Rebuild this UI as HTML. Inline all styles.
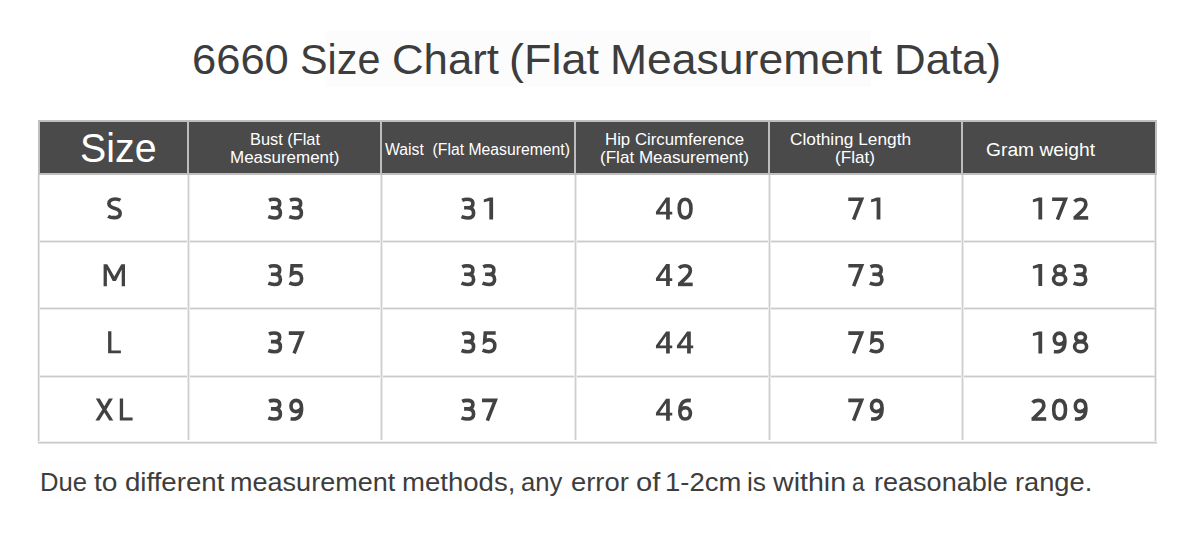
<!DOCTYPE html>
<html><head><meta charset="utf-8"><title>6660 Size Chart</title>
<style>
html,body{margin:0;padding:0;background:#fff;width:1200px;height:549px;overflow:hidden;position:relative}
.t{position:absolute;font-family:"Liberation Sans",sans-serif;line-height:1;white-space:nowrap;transform-origin:0 0}
.r{position:absolute}
.f{fill:#424242;stroke:none}
</style></head><body>
<div class="r" style="left:326px;top:31px;width:545px;height:56px;background:#fcfcfc"></div>
<div class="r" style="left:37px;top:462px;width:735px;height:38px;background:#fefefe"></div>
<div class="r" style="left:38px;top:120px;width:1119px;height:55px;background:#bfbfbf"></div>
<div class="r" style="left:40px;top:122px;width:1115px;height:51px;background:#4a4a4a"></div>
<div class="r" style="left:37px;top:175px;width:1px;height:268px;background:#f4f4f4"></div>
<div class="r" style="left:38px;top:175px;width:1px;height:268px;background:#cacaca"></div>
<div class="r" style="left:39px;top:175px;width:1px;height:268px;background:#e4e4e4"></div>
<div class="r" style="left:1154px;top:175px;width:1px;height:268px;background:#eaeaea"></div>
<div class="r" style="left:1155px;top:175px;width:1px;height:268px;background:#cacaca"></div>
<div class="r" style="left:1156px;top:175px;width:1px;height:268px;background:#eaeaea"></div>
<div class="r" style="left:38px;top:441px;width:1119px;height:1px;background:#f0f0f0"></div>
<div class="r" style="left:38px;top:442px;width:1119px;height:1px;background:#cacaca"></div>
<div class="r" style="left:38px;top:443px;width:1119px;height:1px;background:#e2e2e2"></div>
<div class="r" style="left:40px;top:240px;width:1115px;height:3px;background:#eaeaea"></div>
<div class="r" style="left:40px;top:241px;width:1115px;height:1px;background:#cacaca"></div>
<div class="r" style="left:40px;top:307px;width:1115px;height:3px;background:#eaeaea"></div>
<div class="r" style="left:40px;top:308px;width:1115px;height:1px;background:#cacaca"></div>
<div class="r" style="left:40px;top:375px;width:1115px;height:3px;background:#eaeaea"></div>
<div class="r" style="left:40px;top:376px;width:1115px;height:1px;background:#cacaca"></div>
<div class="r" style="left:187px;top:122px;width:2px;height:51px;background:#bdbdbd"></div>
<div class="r" style="left:187px;top:175px;width:3px;height:265px;background:#eaeaea"></div>
<div class="r" style="left:188px;top:175px;width:1px;height:265px;background:#cfcfcf"></div>
<div class="r" style="left:380px;top:122px;width:2px;height:51px;background:#bdbdbd"></div>
<div class="r" style="left:380px;top:175px;width:3px;height:265px;background:#eaeaea"></div>
<div class="r" style="left:381px;top:175px;width:1px;height:265px;background:#cfcfcf"></div>
<div class="r" style="left:574px;top:122px;width:2px;height:51px;background:#bdbdbd"></div>
<div class="r" style="left:574px;top:175px;width:3px;height:265px;background:#eaeaea"></div>
<div class="r" style="left:575px;top:175px;width:1px;height:265px;background:#cfcfcf"></div>
<div class="r" style="left:768px;top:122px;width:2px;height:51px;background:#bdbdbd"></div>
<div class="r" style="left:768px;top:175px;width:3px;height:265px;background:#eaeaea"></div>
<div class="r" style="left:769px;top:175px;width:1px;height:265px;background:#cfcfcf"></div>
<div class="r" style="left:961px;top:122px;width:2px;height:51px;background:#bdbdbd"></div>
<div class="r" style="left:961px;top:175px;width:3px;height:265px;background:#eaeaea"></div>
<div class="r" style="left:962px;top:175px;width:1px;height:265px;background:#cfcfcf"></div>
<svg class="r" style="left:0;top:0" width="1200" height="549" viewBox="0 0 1200 549"><g fill="none" stroke="#424242" stroke-width="3.6"><g transform="translate(264.8 197.6)"><path d="M4.2 2.7C5.6 1.95 7.2 1.65 9.1 1.65C12.8 1.65 14.9 3.3 14.9 5.8C14.9 8.6 12.7 10.2 9.4 10.2H6.1M9.4 10.2C13.6 10.2 15.6 12.3 15.6 15.3C15.6 18.5 13.3 20.35 9.6 20.35C7.3 20.35 5.4 19.9 3.5 19.1"/></g><g transform="translate(285.8 197.6)"><path d="M4.2 2.7C5.6 1.95 7.2 1.65 9.1 1.65C12.8 1.65 14.9 3.3 14.9 5.8C14.9 8.6 12.7 10.2 9.4 10.2H6.1M9.4 10.2C13.6 10.2 15.6 12.3 15.6 15.3C15.6 18.5 13.3 20.35 9.6 20.35C7.3 20.35 5.4 19.9 3.5 19.1"/></g><g transform="translate(458.0 197.6)"><path d="M4.2 2.7C5.6 1.95 7.2 1.65 9.1 1.65C12.8 1.65 14.9 3.3 14.9 5.8C14.9 8.6 12.7 10.2 9.4 10.2H6.1M9.4 10.2C13.6 10.2 15.6 12.3 15.6 15.3C15.6 18.5 13.3 20.35 9.6 20.35C7.3 20.35 5.4 19.9 3.5 19.1"/></g><g transform="translate(479.0 197.6)"><path class="f" d="M14.1 0H10.5L4.8 1.8V4.7L10.3 3.4V22H14.1Z"/></g><g transform="translate(653.6 197.6)"><path class="f" fill-rule="evenodd" d="M12.5 0H16.2V14.1H18.65V16.9H16.2V22H12.5V16.9H2.35V14.1ZM12.5 4.6L6 14.1H12.5Z"/></g><g transform="translate(674.6 197.6)"><path d="M10.5 1.7C14.6 1.7 16.4 5.2 16.4 11C16.4 16.8 14.6 20.3 10.5 20.3C6.4 20.3 4.6 16.8 4.6 11C4.6 5.2 6.4 1.7 10.5 1.7Z"/></g><g transform="translate(845.3 197.6)"><path d="M3 1.7H16.3L8.3 22"/></g><g transform="translate(866.3 197.6)"><path class="f" d="M14.1 0H10.5L4.8 1.8V4.7L10.3 3.4V22H14.1Z"/></g><g transform="translate(1028.1 197.6)"><path class="f" d="M14.1 0H10.5L4.8 1.8V4.7L10.3 3.4V22H14.1Z"/></g><g transform="translate(1049.1 197.6)"><path d="M3 1.7H16.3L8.3 22"/></g><g transform="translate(1070.1 197.6)"><path d="M4.4 3.9C5.9 2.3 7.8 1.7 10.2 1.7C13.8 1.7 15.75 3.7 15.75 6.7C15.75 9.2 14.3 11 12.1 13.1L5 20"/><path d="M3.4 20.3H18.1"/></g><g transform="translate(264.8 264.1)"><path d="M4.2 2.7C5.6 1.95 7.2 1.65 9.1 1.65C12.8 1.65 14.9 3.3 14.9 5.8C14.9 8.6 12.7 10.2 9.4 10.2H6.1M9.4 10.2C13.6 10.2 15.6 12.3 15.6 15.3C15.6 18.5 13.3 20.35 9.6 20.35C7.3 20.35 5.4 19.9 3.5 19.1"/></g><g transform="translate(285.8 264.1)"><path d="M16.7 1.6H6.3L5.7 10C7 9 8.6 8.5 10.2 8.5C13.7 8.5 15.85 10.9 15.85 14.4C15.85 18.2 13.4 20.3 9.9 20.3C7.6 20.3 5.5 19.7 3.6 18.7"/></g><g transform="translate(458.0 264.1)"><path d="M4.2 2.7C5.6 1.95 7.2 1.65 9.1 1.65C12.8 1.65 14.9 3.3 14.9 5.8C14.9 8.6 12.7 10.2 9.4 10.2H6.1M9.4 10.2C13.6 10.2 15.6 12.3 15.6 15.3C15.6 18.5 13.3 20.35 9.6 20.35C7.3 20.35 5.4 19.9 3.5 19.1"/></g><g transform="translate(479.0 264.1)"><path d="M4.2 2.7C5.6 1.95 7.2 1.65 9.1 1.65C12.8 1.65 14.9 3.3 14.9 5.8C14.9 8.6 12.7 10.2 9.4 10.2H6.1M9.4 10.2C13.6 10.2 15.6 12.3 15.6 15.3C15.6 18.5 13.3 20.35 9.6 20.35C7.3 20.35 5.4 19.9 3.5 19.1"/></g><g transform="translate(653.6 264.1)"><path class="f" fill-rule="evenodd" d="M12.5 0H16.2V14.1H18.65V16.9H16.2V22H12.5V16.9H2.35V14.1ZM12.5 4.6L6 14.1H12.5Z"/></g><g transform="translate(674.6 264.1)"><path d="M4.4 3.9C5.9 2.3 7.8 1.7 10.2 1.7C13.8 1.7 15.75 3.7 15.75 6.7C15.75 9.2 14.3 11 12.1 13.1L5 20"/><path d="M3.4 20.3H18.1"/></g><g transform="translate(845.3 264.1)"><path d="M3 1.7H16.3L8.3 22"/></g><g transform="translate(866.3 264.1)"><path d="M4.2 2.7C5.6 1.95 7.2 1.65 9.1 1.65C12.8 1.65 14.9 3.3 14.9 5.8C14.9 8.6 12.7 10.2 9.4 10.2H6.1M9.4 10.2C13.6 10.2 15.6 12.3 15.6 15.3C15.6 18.5 13.3 20.35 9.6 20.35C7.3 20.35 5.4 19.9 3.5 19.1"/></g><g transform="translate(1028.1 264.1)"><path class="f" d="M14.1 0H10.5L4.8 1.8V4.7L10.3 3.4V22H14.1Z"/></g><g transform="translate(1049.1 264.1)"><ellipse cx="10.5" cy="5.9" rx="4.85" ry="4.2"/><ellipse cx="10.5" cy="15.25" rx="6.05" ry="5.05"/></g><g transform="translate(1070.1 264.1)"><path d="M4.2 2.7C5.6 1.95 7.2 1.65 9.1 1.65C12.8 1.65 14.9 3.3 14.9 5.8C14.9 8.6 12.7 10.2 9.4 10.2H6.1M9.4 10.2C13.6 10.2 15.6 12.3 15.6 15.3C15.6 18.5 13.3 20.35 9.6 20.35C7.3 20.35 5.4 19.9 3.5 19.1"/></g><g transform="translate(264.8 331.4)"><path d="M4.2 2.7C5.6 1.95 7.2 1.65 9.1 1.65C12.8 1.65 14.9 3.3 14.9 5.8C14.9 8.6 12.7 10.2 9.4 10.2H6.1M9.4 10.2C13.6 10.2 15.6 12.3 15.6 15.3C15.6 18.5 13.3 20.35 9.6 20.35C7.3 20.35 5.4 19.9 3.5 19.1"/></g><g transform="translate(285.8 331.4)"><path d="M3 1.7H16.3L8.3 22"/></g><g transform="translate(458.0 331.4)"><path d="M4.2 2.7C5.6 1.95 7.2 1.65 9.1 1.65C12.8 1.65 14.9 3.3 14.9 5.8C14.9 8.6 12.7 10.2 9.4 10.2H6.1M9.4 10.2C13.6 10.2 15.6 12.3 15.6 15.3C15.6 18.5 13.3 20.35 9.6 20.35C7.3 20.35 5.4 19.9 3.5 19.1"/></g><g transform="translate(479.0 331.4)"><path d="M16.7 1.6H6.3L5.7 10C7 9 8.6 8.5 10.2 8.5C13.7 8.5 15.85 10.9 15.85 14.4C15.85 18.2 13.4 20.3 9.9 20.3C7.6 20.3 5.5 19.7 3.6 18.7"/></g><g transform="translate(653.6 331.4)"><path class="f" fill-rule="evenodd" d="M12.5 0H16.2V14.1H18.65V16.9H16.2V22H12.5V16.9H2.35V14.1ZM12.5 4.6L6 14.1H12.5Z"/></g><g transform="translate(674.6 331.4)"><path class="f" fill-rule="evenodd" d="M12.5 0H16.2V14.1H18.65V16.9H16.2V22H12.5V16.9H2.35V14.1ZM12.5 4.6L6 14.1H12.5Z"/></g><g transform="translate(845.3 331.4)"><path d="M3 1.7H16.3L8.3 22"/></g><g transform="translate(866.3 331.4)"><path d="M16.7 1.6H6.3L5.7 10C7 9 8.6 8.5 10.2 8.5C13.7 8.5 15.85 10.9 15.85 14.4C15.85 18.2 13.4 20.3 9.9 20.3C7.6 20.3 5.5 19.7 3.6 18.7"/></g><g transform="translate(1028.1 331.4)"><path class="f" d="M14.1 0H10.5L4.8 1.8V4.7L10.3 3.4V22H14.1Z"/></g><g transform="translate(1049.1 331.4)"><path d="M4.8 20.1C5.8 20.25 6.5 20.3 7.4 20.3C13 20.3 15.8 16.2 15.8 9.5C15.8 4.4 13.8 1.7 10.5 1.7C7.1 1.7 5.2 4 5.2 7.3C5.2 10.7 7.1 12.9 10.1 12.9C12.6 12.9 14.7 11.5 15.7 9.4"/></g><g transform="translate(1070.1 331.4)"><ellipse cx="10.5" cy="5.9" rx="4.85" ry="4.2"/><ellipse cx="10.5" cy="15.25" rx="6.05" ry="5.05"/></g><g transform="translate(264.8 398.7)"><path d="M4.2 2.7C5.6 1.95 7.2 1.65 9.1 1.65C12.8 1.65 14.9 3.3 14.9 5.8C14.9 8.6 12.7 10.2 9.4 10.2H6.1M9.4 10.2C13.6 10.2 15.6 12.3 15.6 15.3C15.6 18.5 13.3 20.35 9.6 20.35C7.3 20.35 5.4 19.9 3.5 19.1"/></g><g transform="translate(285.8 398.7)"><path d="M4.8 20.1C5.8 20.25 6.5 20.3 7.4 20.3C13 20.3 15.8 16.2 15.8 9.5C15.8 4.4 13.8 1.7 10.5 1.7C7.1 1.7 5.2 4 5.2 7.3C5.2 10.7 7.1 12.9 10.1 12.9C12.6 12.9 14.7 11.5 15.7 9.4"/></g><g transform="translate(458.0 398.7)"><path d="M4.2 2.7C5.6 1.95 7.2 1.65 9.1 1.65C12.8 1.65 14.9 3.3 14.9 5.8C14.9 8.6 12.7 10.2 9.4 10.2H6.1M9.4 10.2C13.6 10.2 15.6 12.3 15.6 15.3C15.6 18.5 13.3 20.35 9.6 20.35C7.3 20.35 5.4 19.9 3.5 19.1"/></g><g transform="translate(479.0 398.7)"><path d="M3 1.7H16.3L8.3 22"/></g><g transform="translate(653.6 398.7)"><path class="f" fill-rule="evenodd" d="M12.5 0H16.2V14.1H18.65V16.9H16.2V22H12.5V16.9H2.35V14.1ZM12.5 4.6L6 14.1H12.5Z"/></g><g transform="translate(674.6 398.7)"><path d="M16.2 1.9C15.2 1.75 14.5 1.7 13.6 1.7C8 1.7 5.2 5.8 5.2 12.5C5.2 17.6 7.2 20.3 10.5 20.3C13.9 20.3 15.8 18 15.8 14.7C15.8 11.3 13.9 9.1 10.9 9.1C8.4 9.1 6.3 10.5 5.3 12.6"/></g><g transform="translate(845.3 398.7)"><path d="M3 1.7H16.3L8.3 22"/></g><g transform="translate(866.3 398.7)"><path d="M4.8 20.1C5.8 20.25 6.5 20.3 7.4 20.3C13 20.3 15.8 16.2 15.8 9.5C15.8 4.4 13.8 1.7 10.5 1.7C7.1 1.7 5.2 4 5.2 7.3C5.2 10.7 7.1 12.9 10.1 12.9C12.6 12.9 14.7 11.5 15.7 9.4"/></g><g transform="translate(1028.1 398.7)"><path d="M4.4 3.9C5.9 2.3 7.8 1.7 10.2 1.7C13.8 1.7 15.75 3.7 15.75 6.7C15.75 9.2 14.3 11 12.1 13.1L5 20"/><path d="M3.4 20.3H18.1"/></g><g transform="translate(1049.1 398.7)"><path d="M10.5 1.7C14.6 1.7 16.4 5.2 16.4 11C16.4 16.8 14.6 20.3 10.5 20.3C6.4 20.3 4.6 16.8 4.6 11C4.6 5.2 6.4 1.7 10.5 1.7Z"/></g><g transform="translate(1070.1 398.7)"><path d="M4.8 20.1C5.8 20.25 6.5 20.3 7.4 20.3C13 20.3 15.8 16.2 15.8 9.5C15.8 4.4 13.8 1.7 10.5 1.7C7.1 1.7 5.2 4 5.2 7.3C5.2 10.7 7.1 12.9 10.1 12.9C12.6 12.9 14.7 11.5 15.7 9.4"/></g><g transform="translate(107 197.3)"><path d="M13.4 3C12 2.1 10.3 1.65 8.2 1.65C4.5 1.65 1.9 3.5 1.9 6.3C1.9 9.4 4.6 10.4 8 11.3C11.4 12.2 13.15 13.4 13.15 16.1C13.15 19 10.6 20.35 7 20.35C4.7 20.35 2.7 19.9 1.1 18.9"/></g><g transform="translate(103.6 264.3)"><path class="f" d="M0 0H3.7L10.7 12.2L17.7 0H21.4V22H18.1V5.2L12.3 16.8H9.1L3.3 5.2V22H0Z"/></g><g transform="translate(108.1 331.2)"><path class="f" d="M0 0H3.3V19.2H12.8V22H0Z"/></g><g transform="translate(95.4 398.4)"><path class="f" d="M0.4 0H4.4L8.95 7.9L13.5 0H17.5L11 11L17.9 22H13.9L8.95 14.2L4 22H0L6.9 11Z"/></g><g transform="translate(119.8 398.4)"><path class="f" d="M0 0H3.3V19.2H12.8V22H0Z"/></g></g></svg>
<div class="t" style="left:192.24px;top:39.0px;font-size:42.3px;color:#3d3d3d;transform:scaleX(1.0289);">6660</div>
<div class="t" style="left:299.75px;top:39.0px;font-size:42.3px;color:#3d3d3d;transform:scaleX(0.9769);">Size</div>
<div class="t" style="left:391.63px;top:39.0px;font-size:42.3px;color:#3d3d3d;transform:scaleX(1.0337);">Chart</div>
<div class="t" style="left:508.51px;top:39.0px;font-size:42.3px;color:#3d3d3d;transform:scaleX(1.063);">(Flat</div>
<div class="t" style="left:610.44px;top:39.0px;font-size:42.3px;color:#3d3d3d;transform:scaleX(1.0522);">Measurement</div>
<div class="t" style="left:893.99px;top:39.0px;font-size:42.3px;color:#3d3d3d;transform:scaleX(1.0357);">Data)</div>
<div class="t" style="left:79.78px;top:128.3px;font-size:41px;color:#ffffff;transform:scaleX(0.9592);">Size</div>
<div class="t" style="left:249.94px;top:131px;font-size:17px;color:#ffffff;transform:scaleX(0.9625);">Bust (Flat</div>
<div class="t" style="left:230.4px;top:148.9px;font-size:17px;color:#ffffff;transform:scaleX(0.9981);">Measurement)</div>
<div class="t" style="left:385.0px;top:141.7px;font-size:16px;color:#ffffff;transform:scaleX(0.984);">Waist&nbsp; (Flat Measurement)</div>
<div class="t" style="left:604.61px;top:130.8px;font-size:17px;color:#ffffff;transform:scaleX(0.9885);">Hip Circumference</div>
<div class="t" style="left:599.6px;top:148.5px;font-size:17px;color:#ffffff;transform:scaleX(1.0041);">(Flat Measurement)</div>
<div class="t" style="left:790.28px;top:130.8px;font-size:17px;color:#ffffff;transform:scaleX(1.0171);">Clothing Length</div>
<div class="t" style="left:834.99px;top:148.5px;font-size:17px;color:#ffffff;transform:scaleX(1.0053);">(Flat)</div>
<div class="t" style="left:985.73px;top:140.6px;font-size:18px;color:#ffffff;transform:scaleX(1.0693);">Gram weight</div>
<div class="t" style="left:39.65px;top:469.8px;font-size:25px;color:#3d3d3d;transform:scaleX(1.0256);">Due</div>
<div class="t" style="left:94.2px;top:469.8px;font-size:25px;color:#3d3d3d;transform:scaleX(1.125);">to</div>
<div class="t" style="left:124.69px;top:469.8px;font-size:25px;color:#3d3d3d;transform:scaleX(1.1056);">different</div>
<div class="t" style="left:230.34px;top:469.8px;font-size:25px;color:#3d3d3d;transform:scaleX(1.0815);">measurement</div>
<div class="t" style="left:402.0px;top:469.8px;font-size:25px;color:#3d3d3d;transform:scaleX(1.102);">methods,</div>
<div class="t" style="left:521.47px;top:469.8px;font-size:25px;color:#3d3d3d;transform:scaleX(1.0256);">any</div>
<div class="t" style="left:571.41px;top:469.8px;font-size:25px;color:#3d3d3d;transform:scaleX(1.0941);">error</div>
<div class="t" style="left:635.54px;top:469.8px;font-size:25px;color:#3d3d3d;transform:scaleX(1.165);">of</div>
<div class="t" style="left:664.5px;top:469.8px;font-size:25px;color:#3d3d3d;transform:scaleX(1.0985);">1-2cm</div>
<div class="t" style="left:747.09px;top:469.8px;font-size:25px;color:#3d3d3d;transform:scaleX(1.0533);">is</div>
<div class="t" style="left:773.3px;top:469.8px;font-size:25px;color:#3d3d3d;transform:scaleX(1.1435);">within</div>
<div class="t" style="left:852.4px;top:469.8px;font-size:25px;color:#3d3d3d;transform:scaleX(0.9);">a</div>
<div class="t" style="left:873.64px;top:469.8px;font-size:25px;color:#3d3d3d;transform:scaleX(1.0818);">reasonable</div>
<div class="t" style="left:1014.52px;top:469.8px;font-size:25px;color:#3d3d3d;transform:scaleX(1.0896);">range.</div>
</body></html>
